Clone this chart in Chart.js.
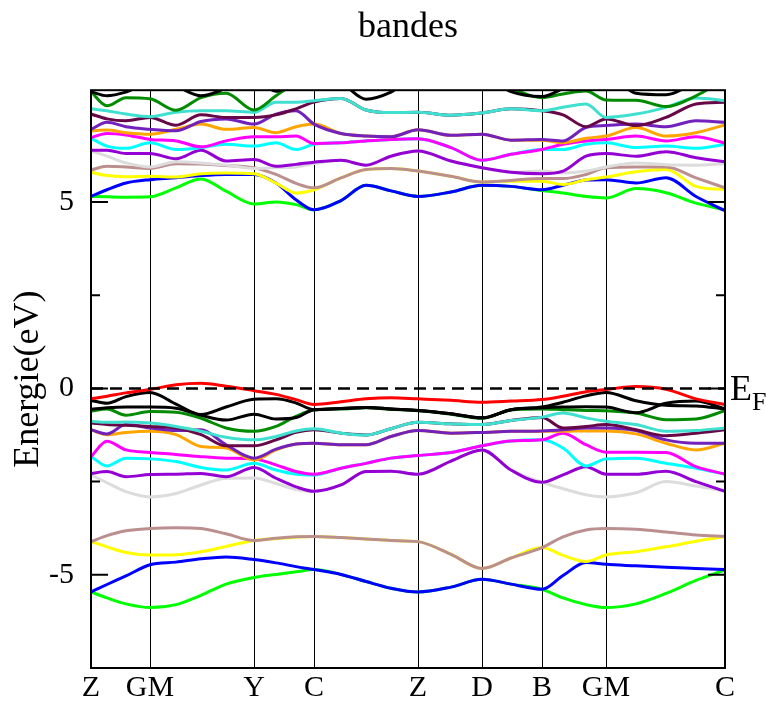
<!DOCTYPE html>
<html>
<head>
<meta charset="utf-8">
<script src="https://cdn.jsdelivr.net/npm/chart.js@4.4.0/dist/chart.umd.min.js"></script>
<style>
  html, body { margin: 0; padding: 0; background: #fff; }
</style>
</head>
<body>
<canvas id="bands" width="766" height="702"></canvas>
<script>
// high symmetry points along the k path
const kPos = [0, 59, 163, 223, 327, 391, 451, 515, 634];
const kLabels = ['Z', 'GM', 'Y', 'C', 'Z', 'D', 'B', 'GM', 'C'];
const kx = [0, 16, 35, 59, 85, 110, 135, 163, 185, 205, 223, 250, 275, 300, 327, 360, 391, 420, 451, 472, 495, 515, 545, 575, 605, 634];
const yMajor = [-5, 0, 5];
const yMinor = [-2.5, 2.5];
const eFermi = 0;

// valence bands (eV)
const vGreen   = [-5.46,-5.62,-5.78,-5.88,-5.80,-5.55,-5.25,-5.07,-4.99,-4.92,-4.86,-4.99,-5.18,-5.36,-5.46,-5.33,-5.12,-5.25,-5.39,-5.62,-5.80,-5.88,-5.78,-5.50,-5.15,-4.87];
const vBlue    = [-5.46,-5.26,-5.03,-4.73,-4.66,-4.57,-4.52,-4.59,-4.68,-4.78,-4.86,-4.99,-5.18,-5.36,-5.46,-5.33,-5.12,-5.25,-5.39,-5.02,-4.67,-4.72,-4.76,-4.80,-4.83,-4.86];
const vYellow  = [-4.11,-4.25,-4.40,-4.47,-4.46,-4.38,-4.24,-4.08,-4.03,-3.99,-3.97,-4.00,-4.04,-4.08,-4.11,-4.45,-4.83,-4.55,-4.27,-4.48,-4.64,-4.47,-4.38,-4.25,-4.10,-3.97];
const vBrown   = [-4.11,-3.95,-3.82,-3.76,-3.74,-3.76,-3.90,-4.08,-4.02,-3.98,-3.97,-4.00,-4.04,-4.08,-4.11,-4.45,-4.83,-4.55,-4.27,-3.98,-3.80,-3.76,-3.78,-3.85,-3.93,-3.97];
const vGray    = [-2.32,-2.53,-2.77,-2.91,-2.82,-2.59,-2.41,-2.40,-2.55,-2.71,-2.76,-2.59,-2.23,-2.22,-2.30,-1.95,-1.65,-2.19,-2.52,-2.69,-2.85,-2.91,-2.80,-2.50,-2.62,-2.76];
const vViolet  = [-2.28,-2.23,-2.37,-2.31,-2.30,-2.28,-2.37,-2.12,-2.41,-2.64,-2.76,-2.59,-2.23,-2.22,-2.30,-1.95,-1.65,-2.19,-2.52,-2.32,-2.10,-2.30,-2.30,-2.22,-2.50,-2.76];
const vCyan    = [-1.83,-2.08,-1.87,-1.89,-1.96,-2.12,-2.19,-2.01,-2.19,-2.30,-2.32,-2.14,-2.01,-1.87,-1.80,-1.72,-1.54,-1.41,-1.38,-1.60,-2.08,-1.89,-1.87,-2.01,-2.14,-2.30];
const vMagenta = [-1.83,-1.42,-1.65,-1.72,-1.77,-1.83,-1.87,-1.89,-2.05,-2.23,-2.30,-2.14,-2.01,-1.87,-1.80,-1.72,-1.54,-1.41,-1.38,-1.20,-1.51,-1.71,-1.71,-1.72,-2.10,-2.30];
const vOrange  = [-1.11,-1.24,-1.18,-1.15,-1.24,-1.56,-1.60,-1.92,-1.65,-1.49,-1.47,-1.51,-1.51,-1.29,-1.13,-1.20,-1.18,-1.15,-1.15,-1.15,-1.14,-1.14,-1.22,-1.47,-1.65,-1.47];
const vIndigo  = [-1.11,-1.22,-0.97,-1.06,-1.13,-1.11,-1.51,-1.87,-1.63,-1.49,-1.47,-1.51,-1.51,-1.29,-1.13,-1.20,-1.18,-1.15,-1.14,-1.11,-1.06,-1.06,-1.13,-1.38,-1.47,-1.47];
const vMaroon  = [-0.93,-0.97,-0.99,-1.02,-1.06,-1.24,-1.54,-1.54,-1.38,-1.18,-1.11,-1.20,-1.25,-1.08,-0.91,-0.95,-0.97,-0.86,-0.78,-1.06,-1.02,-0.97,-1.11,-1.27,-1.20,-1.11];
const vTurq    = [-0.88,-0.91,-0.90,-0.93,-1.02,-1.15,-1.31,-1.38,-1.29,-1.14,-1.08,-1.20,-1.25,-1.08,-0.91,-0.95,-0.97,-0.86,-0.77,-0.66,-0.79,-0.88,-0.97,-1.15,-1.13,-1.06];
const vGreen4  = [-0.61,-0.55,-0.72,-0.62,-0.64,-0.80,-1.06,-1.15,-1.02,-0.75,-0.58,-0.55,-0.52,-0.56,-0.60,-0.69,-0.80,-0.58,-0.55,-0.57,-0.59,-0.60,-0.66,-0.84,-0.82,-0.60];
const vBlackA  = [-0.32,-0.40,-0.22,-0.11,-0.42,-0.70,-0.50,-0.29,-0.28,-0.39,-0.57,-0.54,-0.51,-0.55,-0.59,-0.68,-0.79,-0.57,-0.50,-0.37,-0.20,-0.11,-0.33,-0.45,-0.47,-0.55];
const vBlackB  = [-0.56,-0.52,-0.50,-0.50,-0.53,-0.72,-0.85,-0.69,-0.82,-0.78,-0.57,-0.54,-0.51,-0.55,-0.59,-0.68,-0.79,-0.57,-0.52,-0.50,-0.49,-0.50,-0.65,-0.40,-0.34,-0.55];
const vRed     = [-0.28,-0.21,-0.12,-0.03,0.10,0.14,0.06,-0.06,-0.16,-0.30,-0.43,-0.36,-0.28,-0.25,-0.28,-0.32,-0.37,-0.34,-0.30,-0.21,-0.09,-0.03,0.05,-0.02,-0.28,-0.43];

// conduction bands (eV)
const cGreen   = [5.15,5.14,5.13,5.14,5.38,5.62,5.29,4.95,5.00,4.93,4.79,5.04,5.45,5.30,5.15,5.27,5.45,5.42,5.31,5.24,5.15,5.11,5.36,5.25,4.97,4.79];
const cBlue    = [5.15,5.33,5.51,5.60,5.65,5.71,5.74,5.74,5.51,5.06,4.79,5.04,5.45,5.30,5.15,5.27,5.45,5.42,5.33,5.45,5.59,5.60,5.51,5.65,5.15,4.77];
const cYellow  = [5.80,5.71,5.68,5.69,5.67,5.76,5.78,5.76,5.51,5.24,5.33,5.65,5.87,5.90,5.83,5.69,5.54,5.56,5.56,5.47,5.60,5.67,5.81,5.87,5.42,5.33];
const cBrown   = [5.86,5.96,5.94,5.90,6.03,6.02,5.98,5.92,5.74,5.50,5.38,5.65,5.87,5.90,5.83,5.69,5.54,5.58,5.63,5.63,5.74,5.92,5.94,5.94,5.65,5.38];
const cGray    = [6.37,6.23,6.05,5.94,6.08,6.05,5.99,5.90,5.92,5.94,6.03,6.12,5.99,6.23,6.37,6.10,5.92,5.80,5.83,5.78,5.83,5.94,6.05,6.00,5.99,6.03];
const cViolet  = [6.39,6.39,6.30,6.30,6.16,6.39,6.10,6.14,5.96,6.01,6.07,6.12,5.99,6.23,6.37,6.10,5.92,5.80,5.76,5.83,6.23,6.30,6.23,6.35,6.19,6.08];
const cCyan    = [6.71,6.50,6.44,6.59,6.41,6.46,6.55,6.50,6.59,6.41,6.55,6.59,6.64,6.68,6.70,6.46,6.12,6.28,6.41,6.41,6.55,6.59,6.46,6.50,6.44,6.55];
const cMagenta = [6.73,6.84,6.80,6.68,6.64,6.48,6.64,6.75,6.75,6.77,6.57,6.59,6.64,6.68,6.70,6.46,6.12,6.28,6.41,6.55,6.64,6.68,6.77,6.64,6.75,6.58];
const cOrange  = [6.91,6.93,6.86,6.82,6.95,7.09,6.95,7.00,6.86,7.02,7.09,6.84,6.77,6.75,6.94,6.79,6.82,6.66,6.66,6.59,6.71,6.77,7.00,6.77,6.86,7.07];
const cIndigo  = [6.95,7.14,7.02,6.95,6.91,7.16,7.23,7.09,7.36,7.45,7.09,6.84,6.77,6.75,6.94,6.79,6.82,6.66,6.68,6.64,7.00,7.05,7.09,7.02,7.18,7.14];
const cMaroon  = [7.36,7.23,7.18,7.27,7.06,7.34,7.27,7.27,7.34,7.50,7.68,7.78,7.47,7.40,7.41,7.33,7.39,7.50,7.45,7.34,7.02,7.23,7.05,7.27,7.63,7.68];
const cTurq    = [7.50,7.45,7.36,7.29,7.41,7.45,7.45,7.41,7.68,7.68,7.72,7.78,7.47,7.40,7.41,7.33,7.39,7.50,7.45,7.54,7.63,7.27,7.36,7.54,7.79,7.72];
const cGreen4  = [7.96,7.58,7.80,7.77,7.46,7.80,7.92,7.47,7.85,8.20,8.40,8.40,8.40,8.40,8.40,8.40,8.30,8.05,7.80,7.90,7.98,7.74,7.73,7.56,7.85,8.30];
const cBlack   = [7.96,7.85,7.95,8.20,8.10,7.85,8.05,8.30,7.97,8.20,8.40,8.20,7.76,7.95,8.40,8.40,8.40,7.96,7.83,8.05,8.40,8.40,7.92,7.88,8.20,8.40];

const bandList = [vGreen, vBlue, vYellow, vBrown, vGray, vViolet, vCyan, vMagenta, vOrange, vIndigo,
  vMaroon, vTurq, vGreen4, vBlackA, vBlackB, vRed,
  cGreen, cBlue, cYellow, cBrown, cGray, cViolet, cCyan, cMagenta, cOrange, cIndigo,
  cMaroon, cTurq, cGreen4, cBlack];

const bandColors = ['#00ff00', '#0000ff', '#ffff00', '#bc8f8f', '#dcdcdc', '#9400d3', '#00ffff', '#ff00ff', '#ffa500', '#7221bc',
  '#670748', '#40e0d0', '#008b00', '#000000', '#000000', '#ff0000',
  '#00ff00', '#0000ff', '#ffff00', '#bc8f8f', '#dcdcdc', '#9400d3', '#00ffff', '#ff00ff', '#ffa500', '#7221bc',
  '#670748', '#40e0d0', '#008b00', '#000000'];

const serif = "'Liberation Serif', 'Times New Roman', serif";

const datasets = bandList.map((band, i) => ({
  data: kx.map((x, j) => ({ x: x, y: band[j] })),
  borderColor: bandColors[i],
  borderWidth: 3,
  pointRadius: 0,
  fill: false,
  cubicInterpolationMode: 'monotone',
  clip: 0,
  order: -i
}));

datasets.push({
  data: [{ x: kPos[0], y: eFermi }, { x: kPos[kPos.length - 1], y: eFermi }],
  borderColor: '#000',
  borderWidth: 2.5,
  borderDash: [12, 7],
  pointRadius: 0,
  fill: false,
  clip: 0,
  order: -100
});

const framePlugin = {
  id: 'frame',
  afterDatasetsDraw(chart) {
    const { ctx, chartArea: a, scales: { y } } = chart;
    ctx.save();
    ctx.strokeStyle = '#000';
    ctx.lineWidth = 2;
    ctx.beginPath();
    yMajor.forEach(v => {
      const p = y.getPixelForValue(v);
      ctx.moveTo(a.left, p); ctx.lineTo(a.left + 17, p);
      ctx.moveTo(a.right, p); ctx.lineTo(a.right - 17, p);
    });
    yMinor.forEach(v => {
      const p = y.getPixelForValue(v);
      ctx.moveTo(a.left, p); ctx.lineTo(a.left + 9, p);
      ctx.moveTo(a.right, p); ctx.lineTo(a.right - 9, p);
    });
    ctx.stroke();
    ctx.strokeRect(a.left, a.top, a.right - a.left, a.bottom - a.top);

    // Fermi level label
    const yf = y.getPixelForValue(eFermi);
    ctx.fillStyle = '#000';
    ctx.textBaseline = 'alphabetic';
    ctx.textAlign = 'left';
    ctx.font = '36px ' + serif;
    ctx.fillText('E', a.right + 5, yf + 12);
    ctx.font = '26px ' + serif;
    ctx.fillText('F', a.right + 27, yf + 22);
    ctx.restore();
  }
};

new Chart(document.getElementById('bands'), {
  type: 'line',
  data: { datasets },
  plugins: [framePlugin],
  options: {
    responsive: false,
    devicePixelRatio: 1,
    animation: false,
    layout: { padding: { left: 0, right: 41, top: 0, bottom: 0 } },
    plugins: {
      legend: { display: false },
      tooltip: { enabled: false },
      title: {
        display: true,
        text: 'bandes',
        fullSize: false,
        color: '#000',
        font: { family: serif, size: 36, weight: 'normal' },
        padding: { top: 6, bottom: 41 }
      }
    },
    scales: {
      x: {
        type: 'linear',
        min: kPos[0],
        max: kPos[kPos.length - 1],
        afterBuildTicks: s => { s.ticks = kPos.map(v => ({ value: v })); },
        afterFit: s => { s.height = 34; },
        ticks: {
          autoSkip: false,
          maxRotation: 0,
          padding: 2,
          color: '#000',
          font: { family: serif, size: 30 },
          callback: (v, i) => kLabels[i]
        },
        grid: { color: '#000', lineWidth: 1, drawTicks: false },
        border: { display: false }
      },
      y: {
        type: 'linear',
        min: -7.5,
        max: 8,
        afterBuildTicks: s => { s.ticks = yMajor.map(v => ({ value: v })); },
        afterFit: s => { s.width = 91; },
        ticks: {
          padding: 9,
          color: '#000',
          font: { family: serif, size: 30 },
          callback: v => String(v)
        },
        grid: { display: false },
        border: { display: false },
        title: {
          display: true,
          text: 'Energie(eV)',
          color: '#000',
          font: { family: serif, size: 36 },
          padding: { top: 7, bottom: 0 }
        }
      }
    }
  }
});
</script>
</body>
</html>
